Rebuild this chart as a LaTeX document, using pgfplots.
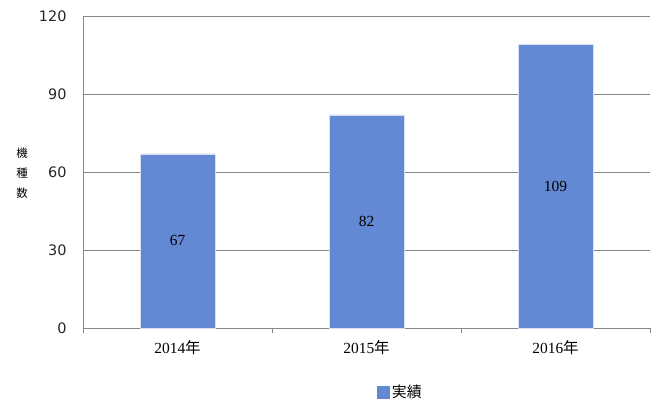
\documentclass[border=0pt]{standalone}
\usepackage{fontspec}
\setmainfont{Liberation Serif}
\newfontfamily\sans{DejaVu Sans}
\newfontfamily\jp{Noto Sans CJK JP}
\usepackage{pgfplots}
\pgfplotsset{compat=1.18}
\definecolor{barblue}{RGB}{99,136,212}
\definecolor{gridgray}{RGB}{134,134,134}
\begin{document}
\begin{tikzpicture}[x=1bp,y=1bp]
\useasboundingbox (0,0) rectangle (661,407);
\begin{axis}[
  at={(83bp,79bp)}, anchor=south west,
  scale only axis, width=567bp, height=312bp,
  xmin=-0.5, xmax=2.5, ymin=0, ymax=120,
  ytick={0,30,60,90,120},
  xtick={-0.5,0.5,1.5,2.5},
  xticklabels={},
  xtick style={draw=gridgray, line width=0.6pt},
  tick align=outside, major tick length=5bp,
  xtick pos=bottom,
  extra x ticks={0,1,2},
  extra x tick labels={2014{\jp 年},2015{\jp 年},2016{\jp 年}},
  extra x tick style={major tick length=0pt, tick style={draw=none}, grid=none},
  ytick style={draw=none},
  ymajorgrids, grid style={draw=gridgray, line width=0.6pt},
  axis line style={draw=gridgray, line width=0.6pt},
  axis x line*=bottom, axis y line*=left,
  /pgf/number format/assume math mode=true,
  yticklabel style={font=\sans\fontsize{14.5}{16}\selectfont, text=black!85, xshift=-8bp},
  xticklabel style={font=\fontsize{15.5}{16}\selectfont, yshift=-9bp},
  legend style={at={(0.56,-0.205)}, anchor=center, draw=none, font=\jp\fontsize{15}{16}\selectfont},
  legend image code/.code={\fill[barblue] (0bp,-6bp) rectangle (12bp,6bp);},
]
\addplot[ybar, bar width=75bp, fill=barblue, draw=white!75!barblue, line width=0.6pt, bar shift=0pt] coordinates {(0,67) (1,82) (2,109)};
\addlegendentry{実績}
\addplot[draw=none, mark=none, forget plot, nodes near coords, point meta=explicit symbolic,
  every node near coord/.style={anchor=center, font=\fontsize{15.5}{16}\selectfont, text=black}]
  coordinates {(0,33.5)[67] (1,41)[82] (2,54.5)[109]};
\end{axis}
\node[font=\jp\fontsize{11.5}{20}\selectfont, align=center] at (22,234) {機\\種\\数};
\end{tikzpicture}
\end{document}
